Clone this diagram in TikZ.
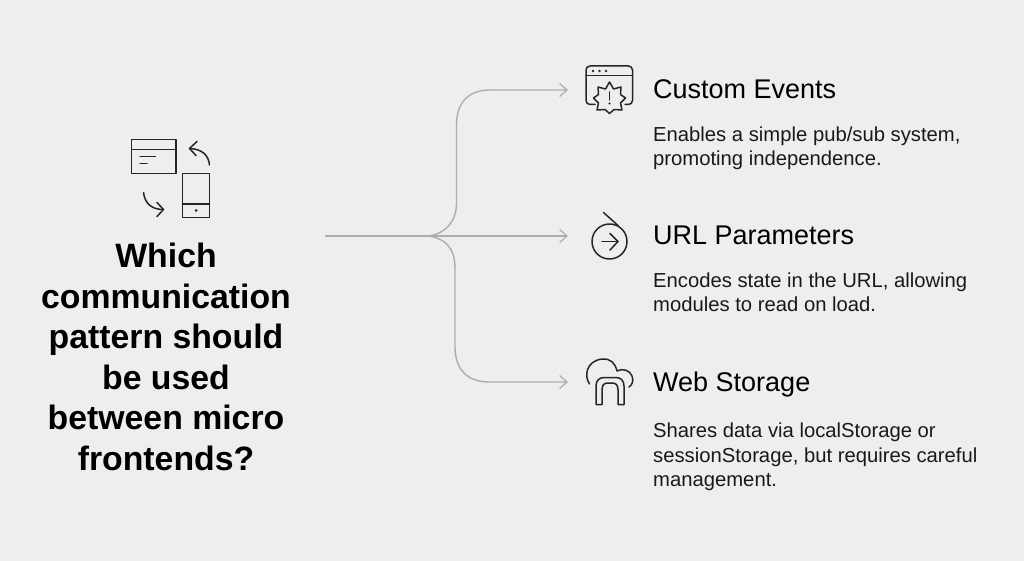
\documentclass[tikz,border=0pt]{standalone}
\usepackage{fontspec}
\setmainfont{Liberation Sans}
\usetikzlibrary{arrows.meta}
\definecolor{bg}{HTML}{EEEEEE}
\definecolor{ink}{HTML}{262626}
\definecolor{conn}{HTML}{ADADAD}
\tikzset{
  icon/.style={draw=ink,line width=1.5pt,line cap=round,line join=round},
  connector/.style={draw=conn,line width=1.4pt},
  tip/.style={-{Straight Barb[length=7.5pt,width=13pt,line width=1.2pt]}},
  headline/.style={align=center,font=\fontsize{33.8}{40.6}\selectfont\bfseries,text=black,inner sep=0pt},
  itemtitle/.style={anchor=base west,font=\fontsize{27}{32}\selectfont,text=black,inner sep=0pt},
  itembody/.style={anchor=north west,align=left,font=\fontsize{20.25}{24.5}\selectfont,text=black!90,inner sep=0pt},
}
\begin{document}
\begin{tikzpicture}[x=1pt,y=-1pt]
\useasboundingbox (0,0) rectangle (1024,561);
\fill[bg] (0,0) rectangle (1024,561);
% connectors
\coordinate (src) at (325,236);
\coordinate (hub) at (428,236);
\coordinate (e1) at (568,90);
\coordinate (e2) at (568,236);
\coordinate (e3) at (568,382);
\draw[connector,tip] (src) -- (e2);
\draw[connector,tip] (hub) .. controls (445,234) and (456.5,222) .. (456.5,203) -- (456.5,125)
   .. controls (456.5,103) and (468,90) .. (490,90) -- (e1);
\draw[connector,tip] (hub) .. controls (445,238) and (455,248) .. (455,268) -- (455,347)
   .. controls (455,369) and (467,382) .. (489,382) -- (e3);
% left icon
\draw[icon] (131.5,139.5) rectangle (176,173.5);
\draw[icon] (131.5,149.5) -- (176,149.5);
\draw[icon] (140,156.5) -- (155.5,156.5) (140,163.5) -- (147,163.5);
\draw[icon] (182.5,173.5) rectangle (209.5,217.5);
\draw[icon] (182.5,204) -- (209.5,204);
\fill[ink] (196,210.5) circle (1.5);
\draw[icon] (209.5,165) .. controls (208.5,155) and (202,149) .. (189.5,148.5);
\draw[icon] (197,141.5) -- (189.5,148.5) -- (196,155.5);
\draw[icon] (143.5,192.5) .. controls (145,204) and (152,209.5) .. (163.5,209.5);
\draw[icon] (157,202.5) -- (163.5,209.5) -- (157,216.5);
% custom events icon
\draw[icon] (586,85) -- (586,70) arc (180:270:4) -- (628.5,66) arc (-90:0:4) -- (632.5,100.5) arc (0:90:4) -- (625,104.5);
\draw[icon] (586,85) -- (586,100.5) arc (180:90:4) -- (595,104.5);
\draw[icon] (586,75.5) -- (632.5,75.5);
\fill[ink] (593,71) circle (1.3) (599.5,71) circle (1.3) (606,71) circle (1.3);
\draw[icon] (609.5,82) -- (613.5,89) -- (621,87) -- (620.5,94.5) -- (625.5,98) -- (620.5,103) -- (622,110) -- (614,109.5) -- (609.5,113.5) -- (605,109.5) -- (597,110) -- (598.5,103) -- (593.5,98) -- (598.5,94.5) -- (598,87) -- (605.5,89) -- cycle;
\draw[icon] (609.5,92) -- (609.5,100);
\fill[ink] (609.5,103.5) circle (1.2);
% url icon
\draw[icon] (609.5,241.5) circle (17.5);
\draw[icon] (603.5,212.5) -- (618,225.5);
\draw[icon] (602,241.5) -- (618,241.5);
\draw[icon] (610,233.5) -- (618,241.5) -- (610,250);
% web storage icon
\draw[icon] (589.5,384) .. controls (584,376) and (586,361) .. (602,359) .. controls (611,358.5) and (615,363) .. (617,371)
  .. controls (622,368) and (630,370) .. (632,376) .. controls (634,381) and (632,385) .. (629,387);
\draw[icon] (596,404.5) -- (596,386) .. controls (596,380) and (600,377.5) .. (604,377.5) -- (616,377.5) .. controls (621,377.5) and (624,381) .. (624,386) -- (624,404.5) -- (618,404.5) -- (618,390) .. controls (618,385) and (616,383) .. (612,383) -- (608,383) .. controls (604,383) and (602,385) .. (602,390) -- (602,404.5) -- cycle;
% texts
\node[headline] (head) at (166,357) {Which\\communication\\pattern should\\be used\\between micro\\frontends?};
\node[itemtitle] (t1) at (653,98.5) {Custom Events};
\node[itemtitle] (t2) at (653,244.5) {URL Parameters};
\node[itemtitle] (t3) at (653,391) {Web Storage};
\node[itembody] (b1) at (653,126.5) {Enables a simple pub/sub system,\\promoting independence.};
\node[itembody] (b2) at (653,272.5) {Encodes state in the URL, allowing\\modules to read on load.};
\node[itembody] (b3) at (653,423) {Shares data via localStorage or\\sessionStorage, but requires careful\\management.};
\end{tikzpicture}
\end{document}
